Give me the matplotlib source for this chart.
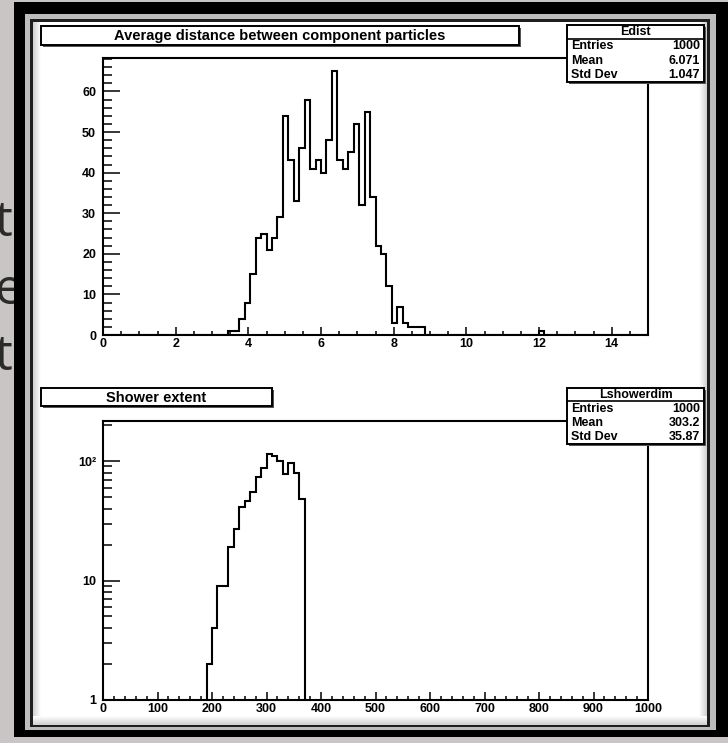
"""Two ROOT-style histograms: average inter-particle distance and shower extent,
each with its own title pave and stats box, on a framed white page."""
import numpy as np
import matplotlib
matplotlib.use("Agg")
import matplotlib.pyplot as plt
from matplotlib.patches import Rectangle
from matplotlib.colors import LinearSegmentedColormap
from matplotlib.ticker import MultipleLocator, LogLocator, NullFormatter

# Edist: 100 bins on [0, 15]
EDIST_RANGE = (0.0, 15.0)
EDIST_COUNTS = ([0] * 23
                + [1, 1, 4, 8, 15, 24, 25, 21, 24, 29, 54, 43, 33, 46, 58, 41, 43, 40,
                   48, 65, 43, 41, 45, 52, 32, 55, 34, 22, 20, 12, 3, 7, 3, 2, 2, 2]
                + [0] * 21 + [1] + [0] * 19)
EDIST_STATS = [("Entries", "1000"), ("Mean", "6.071"), ("Std Dev", "1.047")]

# Lshowerdim: 100 bins on [0, 1000]
SHOWER_RANGE = (0.0, 1000.0)
SHOWER_COUNTS = ([0] * 19
                 + [2, 4, 9, 9, 19, 27, 41, 46, 55, 73, 88, 114, 110, 100, 78, 97, 80, 48]
                 + [0] * 63)
SHOWER_STATS = [("Entries", "1000"), ("Mean", "303.2"), ("Std Dev", "35.87")]

EDIST_YTICKS = [0, 10, 20, 30, 40, 50, 60]
EDIST_XTICKS = [0, 2, 4, 6, 8, 10, 12, 14]
SHOWER_XTICKS = [0, 100, 200, 300, 400, 500, 600, 700, 800, 900, 1000]
SHOWER_YTICKS = [1, 10, 100]
SHOWER_YLABELS = ["1", "10", "10\u00b2"]

# slide text peeking out from behind the left edge of the frame
MARGIN_LETTERS = [("t", 236), ("e", 304), ("t", 370)]

W, H = 728, 743
FONT = ["Liberation Sans Narrow", "Liberation Sans", "DejaVu Sans"]
plt.rcParams["font.family"] = FONT
plt.rcParams["font.weight"] = "bold"


def fbox(x0, y0, x1, y1):
    """pixel box (top-left origin) -> figure fraction rect"""
    return [x0 / W, 1 - y1 / H, (x1 - x0) / W, (y1 - y0) / H]


def pave(ax, x0, y0, x1, y1, lw=1.4):
    ax.add_patch(Rectangle((x0 + 1.5, y0 + 1.5), x1 - x0, y1 - y0, fc="#555555", ec="none"))
    ax.add_patch(Rectangle((x0, y0), x1 - x0, y1 - y0, fc="white", ec="black", lw=lw))


def stats_box(ax, x0, y0, x1, y1, name, rows):
    pave(ax, x0, y0, x1, y1)
    head = y0 + (y1 - y0) * 0.24
    ax.plot([x0, x1], [head, head], color="black", lw=1.2)
    ax.text((x0 + x1) / 2, (y0 + head) / 2 + 0.5, name, ha="center", va="center", fontsize=9)
    step = (y1 - head) / len(rows)
    for i, (k, v) in enumerate(rows):
        yy = head + step * (i + 0.5) + 0.5
        ax.text(x0 + 4, yy, k, ha="left", va="center", fontsize=9)
        ax.text(x1 - 4, yy, v, ha="right", va="center", fontsize=9)


def style_axis(ax):
    for s in ax.spines.values():
        s.set_linewidth(1.5)
    ax.tick_params(axis="both", which="both", direction="in", top=False, right=False,
                   width=1.1, labelsize=9, colors="black")
    ax.tick_params(axis="y", which="major", length=12, pad=5)
    ax.tick_params(axis="y", which="minor", length=6.5)
    ax.tick_params(axis="x", which="major", length=5.8, pad=2)
    ax.tick_params(axis="x", which="minor", length=3)
    for lab in ax.get_xticklabels() + ax.get_yticklabels():
        lab.set_fontweight("bold")


def edge_shade(ax, x0, y0, x1, y1, horizontal, reverse=False):
    """soft grey-to-white ramp along an inner edge of the sheet"""
    ramp = np.linspace(0, 1, 32)
    if reverse:
        ramp = ramp[::-1]
    img = ramp[None, :] if horizontal else ramp[:, None]
    ax.imshow(img, extent=(x0, x1, y1, y0), cmap=SHADE, vmin=0, vmax=1,
              aspect="auto", interpolation="bilinear", zorder=3)


SHADE = LinearSegmentedColormap.from_list("shade", ["#cfcfcf", "#ffffff"])

fig = plt.figure(figsize=(W / 100, H / 100), dpi=100)
fig.patch.set_facecolor("#c9c5c4")

bg = fig.add_axes([0, 0, 1, 1], zorder=0)
bg.set_xlim(0, W)
bg.set_ylim(H, 0)
bg.axis("off")
for ch, yy in MARGIN_LETTERS:
    bg.text(-6, yy, ch, ha="left", va="baseline", fontsize=36, fontweight="normal",
            family="Open Sans", color="#2a2a2a", zorder=1)
# page frame: black border, grey bevel, white sheet
bg.add_patch(Rectangle((14, 2), W - 14, 735, fc="black", ec="none", zorder=2))
bg.add_patch(Rectangle((25, 14), 691, 716, fc="#bdbdbd", ec="none", zorder=2))
bg.add_patch(Rectangle((30, 19), 680, 708, fc="#1e1e1e", ec="none", zorder=2))
bg.add_patch(Rectangle((33, 22), 674, 703, fc="white", ec="none", zorder=2))
edge_shade(bg, 33, 22, 41, 725, horizontal=True)
edge_shade(bg, 699, 22, 707, 725, horizontal=True, reverse=True)
edge_shade(bg, 33, 716, 707, 725, horizontal=False, reverse=True)
bg.set_xlim(0, W)
bg.set_ylim(H, 0)

# --- Edist ---
edges = np.linspace(*EDIST_RANGE, len(EDIST_COUNTS) + 1)
counts = np.array(EDIST_COUNTS, float)
ax1 = fig.add_axes(fbox(103, 58, 648, 335), zorder=2)
ax1.stairs(counts, edges, color="black", lw=1.5, baseline=0)
ax1.set_xlim(*EDIST_RANGE)
ax1.set_ylim(0, counts.max() * 1.05)
ax1.set_xticks(EDIST_XTICKS, [str(t) for t in EDIST_XTICKS])
ax1.set_yticks(EDIST_YTICKS, [str(t) for t in EDIST_YTICKS])
ax1.xaxis.set_minor_locator(MultipleLocator(0.5))
ax1.yaxis.set_minor_locator(MultipleLocator(2))
style_axis(ax1)

# --- Lshowerdim (log y) ---
edges2 = np.linspace(*SHOWER_RANGE, len(SHOWER_COUNTS) + 1)
counts2 = np.array(SHOWER_COUNTS, float)
nz = np.nonzero(counts2)[0]
lo, hi = nz[0], nz[-1] + 1
ax2 = fig.add_axes(fbox(103, 421, 648, 700), zorder=2)
ax2.set_yscale("log")
ymin, ymax = 1.0, 10 ** 2.335
ax2.stairs(counts2[lo:hi], edges2[lo:hi + 1], color="black", lw=1.5, baseline=ymin)
ax2.set_xlim(*SHOWER_RANGE)
ax2.set_ylim(ymin, ymax)
ax2.set_xticks(SHOWER_XTICKS, [str(t) for t in SHOWER_XTICKS])
ax2.set_yticks(SHOWER_YTICKS, SHOWER_YLABELS)
ax2.xaxis.set_minor_locator(MultipleLocator(20))
ax2.yaxis.set_minor_locator(LogLocator(base=10, subs=np.arange(2, 10)))
ax2.yaxis.set_minor_formatter(NullFormatter())
style_axis(ax2)

# --- title paves and stats boxes drawn over the plots ---
fg = fig.add_axes([0, 0, 1, 1], zorder=5)
fg.set_xlim(0, W)
fg.set_ylim(H, 0)
fg.axis("off")
fg.patch.set_alpha(0)

pave(fg, 41, 26, 519, 45)
fg.text(280, 36, "Average distance between component particles", ha="center", va="center",
        fontsize=10.5)
stats_box(fg, 567, 25, 704, 82, "Edist", EDIST_STATS)

pave(fg, 41, 388, 272, 406)
fg.text(156, 397.5, "Shower extent", ha="center", va="center", fontsize=10.5)
stats_box(fg, 567, 388, 704, 444, "Lshowerdim", SHOWER_STATS)

fig.savefig("out.png", dpi=100)
